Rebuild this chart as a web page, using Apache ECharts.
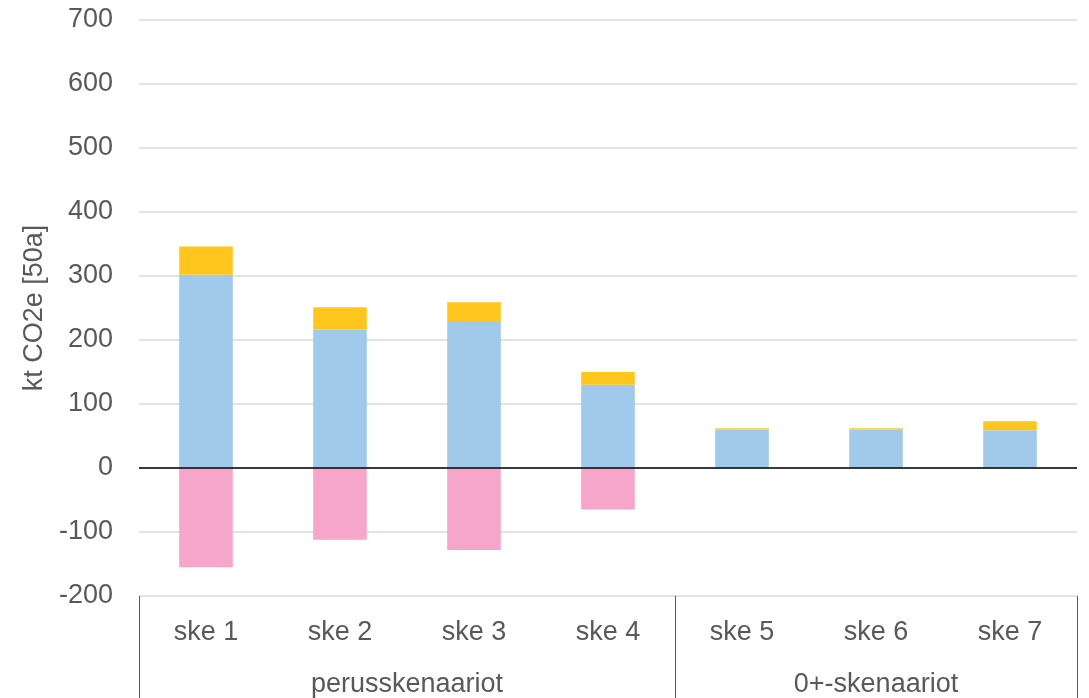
<!DOCTYPE html>
<html>
<head>
<meta charset="utf-8">
<script src="https://cdn.jsdelivr.net/npm/echarts@6/dist/echarts.min.js"></script>
<style>
  html, body { margin: 0; padding: 0; background: #fff; }
  #chart { width: 1089px; height: 698px; }
</style>
</head>
<body>
<div id="chart"></div>
<script>
// Scenario categories and their groups
const categories = ['ske 1', 'ske 2', 'ske 3', 'ske 4', 'ske 5', 'ske 6', 'ske 7'];
const groupNames = ['perusskenaariot', '0+-skenaariot'];
const groupCenters = [2, 5.5];       // group label positions in category units
const groupBounds = [0, 4, 7];       // group divider positions in category units

// Emission components, kt CO2e over 50 years
const baseValues = [302, 216, 228, 130, 60, 60, 59];
const extraValues = [44, 35, 31, 20, 2, 2, 14];
const sinkValues = [-155, -112, -128, -65, null, null, null];

// Value axis ticks
const yMin = -200, yMax = 700, yStep = 100;

const textColor = '#595959';
const fontFamily = '"Liberation Sans", Arial, sans-serif';
const fontSize = 27;

const chart = echarts.init(document.getElementById('chart'));

chart.setOption({
  animation: false,
  backgroundColor: '#ffffff',
  grid: { left: 139, right: 12, top: 20, bottom: 102, containLabel: false },
  xAxis: [
    {
      type: 'category',
      data: categories,
      position: 'bottom',
      axisLine: { show: false, onZero: false },
      axisTick: { show: false },
      splitLine: { show: false },
      axisLabel: { color: textColor, fontSize: fontSize, fontFamily: fontFamily, margin: 23 }
    },
    {
      type: 'value',
      min: 0, max: 7,
      position: 'bottom',
      axisLine: { show: false, onZero: false },
      splitLine: { show: false },
      axisTick: {
        show: true,
        customValues: groupBounds,
        length: 102,
        lineStyle: { color: '#595959', width: 1 }
      },
      axisLabel: {
        show: true,
        customValues: groupCenters,
        margin: 75,
        color: textColor, fontSize: fontSize, fontFamily: fontFamily,
        formatter: function (v) {
          const i = groupCenters.indexOf(v);
          return i >= 0 ? groupNames[i] : '';
        }
      }
    }
  ],
  yAxis: {
    type: 'value',
    min: yMin, max: yMax, interval: yStep,
    name: 'kt CO2e [50a]',
    nameLocation: 'middle',
    nameGap: 87,
    nameTextStyle: { color: textColor, fontSize: fontSize, fontFamily: fontFamily },
    axisLine: { show: false },
    axisTick: { show: false },
    axisLabel: { color: textColor, fontSize: fontSize, fontFamily: fontFamily, margin: 26 },
    splitLine: { show: true, lineStyle: { color: '#d9d9d9', width: 1.5 } }
  },
  series: [
    {
      name: 'perus',
      type: 'bar',
      stack: 'total',
      barWidth: '40%',
      data: baseValues,
      itemStyle: { color: '#A0C9EA' },
      markLine: {
        silent: true,
        symbol: 'none',
        label: { show: false },
        lineStyle: { color: '#000000', width: 1.5, type: 'solid' },
        data: [{ yAxis: 0 }],
        z: 10
      }
    },
    {
      name: 'lisä',
      type: 'bar',
      stack: 'total',
      barWidth: '40%',
      data: extraValues,
      itemStyle: { color: '#FFC61E' }
    },
    {
      name: 'nielu',
      type: 'bar',
      stack: 'total',
      barWidth: '40%',
      data: sinkValues,
      itemStyle: { color: '#F5A6CA' }
    }
  ]
});
</script>
</body>
</html>
